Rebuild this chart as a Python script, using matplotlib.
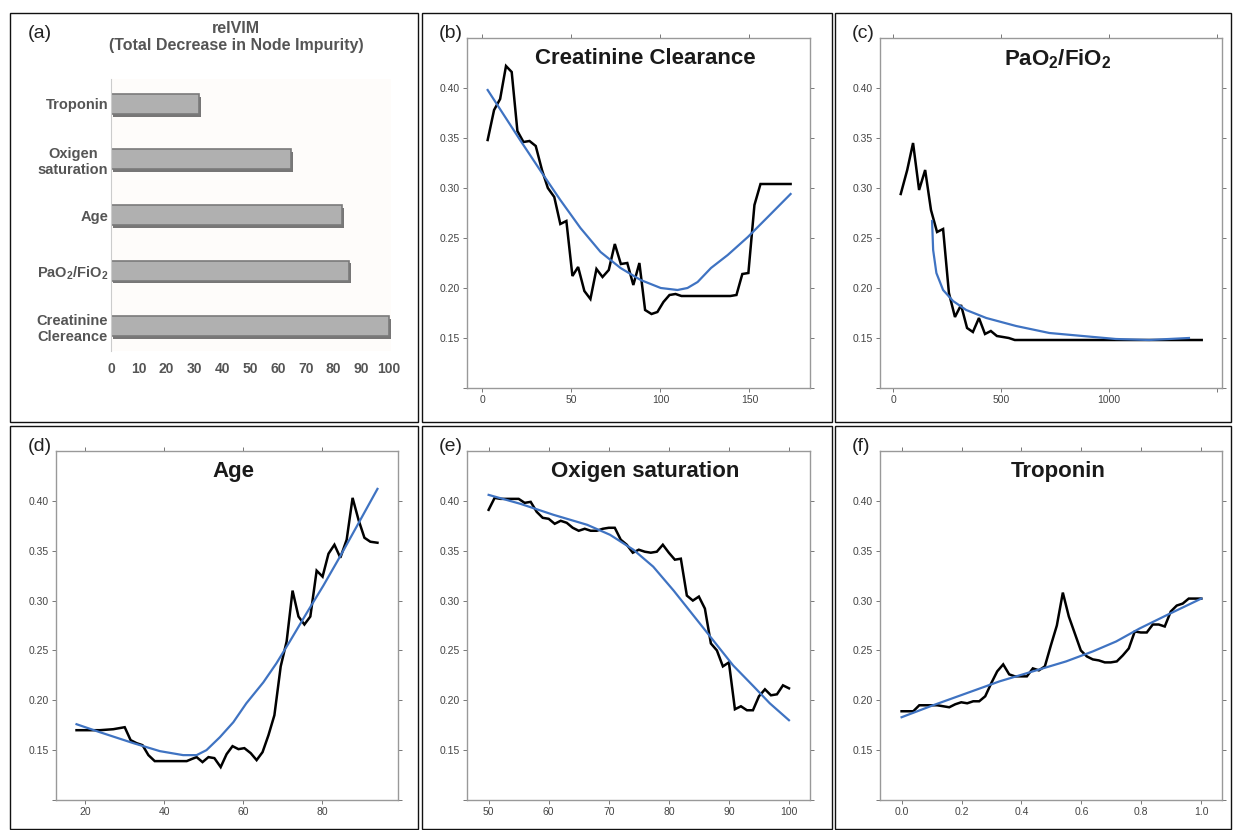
import matplotlib
matplotlib.use('Agg')
import matplotlib.pyplot as plt
import matplotlib.patheffects as pe
from matplotlib.patches import Rectangle

plt.rcParams['font.family'] = ['Liberation Sans', 'DejaVu Sans']
plt.rcParams['mathtext.fontset'] = 'custom'
plt.rcParams['mathtext.rm'] = 'Liberation Sans'
plt.rcParams['mathtext.bf'] = 'Liberation Sans:bold'

# (a) variable importance
vim_labels = ['Creatinine\nClereance', r'PaO$_\mathbf{2}$/FiO$_\mathbf{2}$', 'Age',
              'Oxigen\nsaturation', 'Troponin']
vim_values = [100, 85.7, 83, 64.7, 31.6]
vim_ticks = [0, 10, 20, 30, 40, 50, 60, 70, 80, 90, 100]

# (b) Creatinine clearance
cr_x = [3, 6.6, 10, 13.3, 16.5, 19.7, 23.1, 26.5, 30, 33.5, 36.8, 40.4, 43.8, 47.2,
        50.6, 53.8, 57.3, 60.7, 64.1, 67.5, 71, 74.4, 77.8, 81.4, 84.8, 88.2, 91.4,
        95, 98.3, 101.7, 105.1, 108.5, 111.8, 139.3, 142.7, 146, 149.4, 152.8, 156.2, 173.1]
cr_y = [0.348, 0.378, 0.389, 0.422, 0.416, 0.357, 0.346, 0.347, 0.342, 0.318, 0.300,
        0.291, 0.264, 0.267, 0.212, 0.221, 0.197, 0.189, 0.219, 0.211, 0.218, 0.244,
        0.224, 0.225, 0.203, 0.225, 0.178, 0.174, 0.176, 0.186, 0.193, 0.194, 0.192,
        0.192, 0.193, 0.214, 0.215, 0.283, 0.304, 0.304]
cr_fit_x = [3, 21.2, 33.5, 43.8, 55.1, 66.4, 77.6, 88.9, 100.2, 109.6, 115.2, 120.9,
            128.4, 137.8, 149.1, 160.3, 173.1]
cr_fit_y = [0.398, 0.348, 0.315, 0.288, 0.260, 0.236, 0.220, 0.208, 0.200, 0.198,
            0.200, 0.206, 0.220, 0.233, 0.251, 0.271, 0.294]

# (c) PaO2/FiO2
pf_x = [35, 65, 92, 120, 148, 175, 203, 231, 258, 286, 314, 342, 369, 397, 425,
        452, 480, 508, 535, 563, 1428]
pf_y = [0.294, 0.318, 0.345, 0.298, 0.318, 0.278, 0.256, 0.259, 0.195, 0.171, 0.183,
        0.160, 0.156, 0.170, 0.154, 0.157, 0.152, 0.151, 0.150, 0.148, 0.148]
pf_fit_x = [180, 185, 200, 231, 277, 338, 431, 569, 723, 877, 1031, 1185, 1369]
pf_fit_y = [0.267, 0.238, 0.215, 0.198, 0.187, 0.178, 0.170, 0.162, 0.155, 0.152,
            0.149, 0.148, 0.150]

# (d) Age
age_x = [17.8, 23.7, 27.1, 30.0, 31.5, 33, 34.5, 36, 37.6, 39.1, 45.7, 46.9, 48.2,
         49.7, 51.2, 52.7, 54.3, 55.8, 57.3, 58.8, 60.3, 61.9, 63.4, 64.9, 66.4, 67.9,
         69.5, 71, 72.5, 74, 75.5, 77, 78.6, 80.1, 81.6, 83.1, 84.6, 86.2, 87.7, 89.2,
         90.7, 92.2, 94]
age_y = [0.170, 0.170, 0.171, 0.173, 0.160, 0.157, 0.155, 0.145, 0.139, 0.139, 0.139,
         0.141, 0.143, 0.138, 0.143, 0.142, 0.133, 0.146, 0.154, 0.151, 0.152, 0.147,
         0.140, 0.148, 0.165, 0.185, 0.234, 0.259, 0.310, 0.284, 0.276, 0.284, 0.330,
         0.324, 0.347, 0.356, 0.343, 0.361, 0.403, 0.381, 0.363, 0.359, 0.358]
age_fit_x = [17.8, 23.7, 32.2, 38.9, 44.8, 48.2, 50.7, 54.1, 57.5, 60.8, 65.1, 68.4,
             71.8, 76, 80.3, 84.5, 88.7, 94]
age_fit_y = [0.176, 0.168, 0.157, 0.149, 0.145, 0.145, 0.150, 0.163, 0.178, 0.197,
             0.218, 0.237, 0.259, 0.287, 0.315, 0.344, 0.374, 0.412]

# (e) Oxygen saturation
ox_x = list(range(50, 101))
ox_y = [0.391, 0.403, 0.402, 0.402, 0.402, 0.402, 0.398, 0.399, 0.389, 0.383, 0.382,
        0.377, 0.380, 0.378, 0.373, 0.370, 0.372, 0.370, 0.370, 0.372, 0.373, 0.373,
        0.361, 0.356, 0.348, 0.351, 0.349, 0.348, 0.349, 0.356, 0.348, 0.341, 0.342,
        0.305, 0.300, 0.304, 0.292, 0.257, 0.250, 0.234, 0.238, 0.191, 0.194, 0.190,
        0.190, 0.204, 0.211, 0.205, 0.206, 0.215, 0.212]
ox_fit_x = [50, 55.3, 60.8, 66.4, 70.2, 74.1, 77.4, 80.8, 84.1, 87.4, 90.7, 94.1,
            96.8, 100]
ox_fit_y = [0.406, 0.397, 0.386, 0.376, 0.366, 0.351, 0.334, 0.310, 0.285, 0.260,
            0.235, 0.214, 0.197, 0.180]

# (f) Troponin
tr_x = [0, 0.039, 0.059, 0.079, 0.099, 0.119, 0.139, 0.159, 0.179, 0.199, 0.219,
        0.239, 0.259, 0.279, 0.299, 0.319, 0.339, 0.359, 0.378, 0.398, 0.418, 0.438,
        0.458, 0.478, 0.498, 0.518, 0.538, 0.558, 0.578, 0.598, 0.618, 0.638, 0.658,
        0.678, 0.698, 0.718, 0.738, 0.758, 0.778, 0.798, 0.818, 0.838, 0.858, 0.878,
        0.898, 0.918, 0.938, 0.958, 0.978, 1.0]
tr_y = [0.189, 0.189, 0.195, 0.195, 0.195, 0.195, 0.194, 0.193, 0.196, 0.198, 0.197,
        0.199, 0.199, 0.204, 0.217, 0.229, 0.236, 0.226, 0.224, 0.224, 0.224, 0.232,
        0.230, 0.234, 0.255, 0.275, 0.308, 0.284, 0.267, 0.250, 0.244, 0.241, 0.240,
        0.238, 0.238, 0.239, 0.245, 0.252, 0.269, 0.268, 0.268, 0.276, 0.276, 0.274,
        0.289, 0.295, 0.297, 0.302, 0.302, 0.302]
tr_fit_x = [0, 0.105, 0.216, 0.327, 0.438, 0.549, 0.638, 0.716, 0.794, 0.882, 1.0]
tr_fit_y = [0.183, 0.195, 0.207, 0.219, 0.229, 0.239, 0.249, 0.259, 0.272, 0.285, 0.302]

W, H = 1233, 830
fig = plt.figure(figsize=(12.33, 8.30), dpi=100)


def fr(l, t, r, b):
    return [l / W, 1 - b / H, (r - l) / W, (b - t) / H]


# panel frames
for (l, t, r, b) in [(10, 13, 418.5, 422.5), (421.5, 13, 832, 422.5), (834.5, 13, 1231, 422.5),
                     (10, 426.5, 418.5, 829), (421.5, 426.5, 832, 829), (834.5, 426.5, 1231, 829)]:
    fig.patches.append(Rectangle((l / W, 1 - b / H), (r - l) / W, (b - t) / H,
                                 transform=fig.transFigure, fill=False,
                                 edgecolor='#111111', linewidth=1.0))

# (a) bar chart
axa = fig.add_axes(fr(111, 79, 391, 351))
axa.set_facecolor('#fefcfa')
bars = axa.barh(range(len(vim_values)), vim_values, height=0.36, color='#b0b0b0',
                edgecolor='#7a7a7a', linewidth=1.2)
for b in bars:
    b.set_path_effects([pe.SimplePatchShadow(offset=(1.5, -2), shadow_rgbFace='#555555',
                                             alpha=0.8), pe.Normal()])
axa.set_xlim(0, 100.7)
axa.set_ylim(-0.45, 4.45)
axa.set_yticks(range(len(vim_labels)))
axa.set_yticklabels(vim_labels, fontsize=10.5, fontweight='bold', color='#555555',
                    multialignment='center')
axa.set_xticks(vim_ticks)
axa.set_xticklabels([str(v) for v in vim_ticks], fontsize=10, fontweight='bold',
                    color='#555555', family=['Liberation Sans Narrow', 'Liberation Sans'])
axa.tick_params(length=0, pad=8)
axa.tick_params(axis='y', pad=2)
for s in ['top', 'right', 'bottom']:
    axa.spines[s].set_visible(False)
axa.spines['left'].set_color('#cccccc')
axa.spines['left'].set_bounds(-0.45, 4.45)
fig.text(236 / W, 1 - 37 / H, 'relVIM\n(Total Decrease in Node Impurity)', ha='center',
         va='center', fontsize=11.5, fontweight='bold', color='#555555', linespacing=1.2)

# partial dependence panels
panels = [
    ('(b)', fr(467, 38, 810, 388), (-8.6, 184), [0, 50, 100, 150], [0, 50, 100, 150],
     'Creatinine Clearance', cr_x, cr_y, cr_fit_x, cr_fit_y, 421),
    ('(c)', fr(880, 38, 1222, 388), (-61, 1522), [0, 500, 1000, 1500], ['0', '500', '1000', ''],
     r'PaO$_\mathbf{2}$/FiO$_\mathbf{2}$', pf_x, pf_y, pf_fit_x, pf_fit_y, 834),
    ('(d)', fr(56, 451, 398, 800), (12.6, 99.2), [20, 40, 60, 80], [20, 40, 60, 80],
     'Age', age_x, age_y, age_fit_x, age_fit_y, 10),
    ('(e)', fr(467, 451, 810, 800), (46.4, 103.5), [50, 60, 70, 80, 90, 100],
     [50, 60, 70, 80, 90, 100], 'Oxigen saturation', ox_x, ox_y, ox_fit_x, ox_fit_y, 421),
    ('(f)', fr(880, 451, 1222, 800), (-0.072, 1.069), [0, 0.2, 0.4, 0.6, 0.8, 1.0],
     ['0.0', '0.2', '0.4', '0.6', '0.8', '1.0'], 'Troponin', tr_x, tr_y, tr_fit_x,
     tr_fit_y, 834),
]

yt = [0.10, 0.15, 0.20, 0.25, 0.30, 0.35, 0.40]
ytl = ['', '0.15', '0.20', '0.25', '0.30', '0.35', '0.40']

for tag, pos, xl, xt, xtl, title, x, y, fx, fy, fl in panels:
    ax = fig.add_axes(pos)
    ax.plot(x, y, color='black', lw=1.8, solid_joinstyle='miter')
    ax.plot(fx, fy, color='#3f73c2', lw=1.6)
    ax.set_xlim(*xl)
    ax.set_ylim(0.10, 0.45)
    ax.set_xticks(xt)
    ax.set_xticklabels([str(v) for v in xtl])
    ax.set_yticks(yt)
    ax.set_yticklabels(ytl)
    ax.tick_params(direction='out', length=3, width=0.7, color='#777777',
                   labelsize=7.5, labelcolor='#444444', top=True, right=True, pad=2)
    for s in ax.spines.values():
        s.set_color('#999999')
        s.set_linewidth(1.0)
    ax.text(0.52, 0.94, title, transform=ax.transAxes, ha='center', va='center',
            fontsize=16, fontweight='bold', color='#1a1a1a')
    top = 33 if pos[1] > 0.5 else 446
    fig.text((fl + 18) / W, 1 - top / H, tag, ha='left', va='center', fontsize=14,
             color='#222222')

fig.text(28 / W, 1 - 33 / H, '(a)', ha='left', va='center', fontsize=14, color='#222222')

fig.savefig('out.png', dpi=100)
